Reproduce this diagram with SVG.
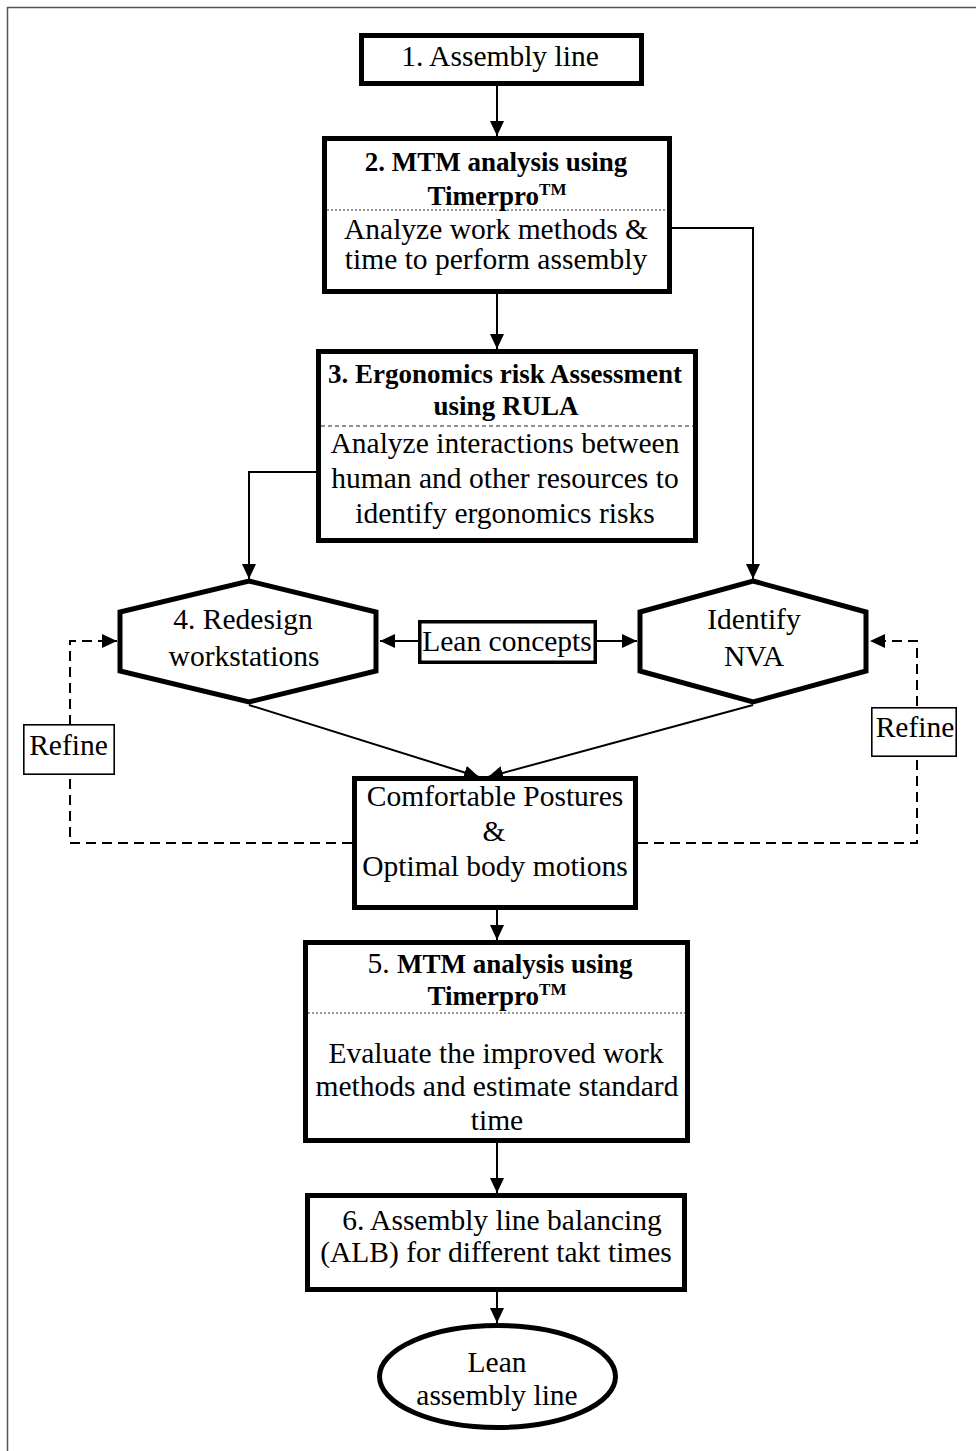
<svg xmlns="http://www.w3.org/2000/svg" width="976" height="1451" viewBox="0 0 976 1451">
<style>
text{font-family:"Liberation Serif","Times New Roman",serif;font-size:29.5px;fill:#000;text-anchor:middle}
.b{font-weight:bold;font-size:27px}
.tm{font-weight:bold;font-size:17px}
.box{fill:#fff;stroke:#000;stroke-width:5}
.thin{fill:#fff;stroke:#000;stroke-width:1.6}
.con{fill:none;stroke:#000;stroke-width:2}
.dash{fill:none;stroke:#000;stroke-width:2;stroke-dasharray:10 6}
.dot{stroke:#333;stroke-width:1;stroke-dasharray:2 2}
.dsh{stroke:#222;stroke-width:1.2;stroke-dasharray:4 3}
</style>
<defs>
<marker id="ah" markerUnits="userSpaceOnUse" markerWidth="16" markerHeight="14" refX="15" refY="7" orient="auto">
<path d="M0,0 L15,7 L0,14 z" fill="#000"/>
</marker>
</defs>
<path d="M7.5,1451 V7.5 H976" fill="none" stroke="#555" stroke-width="1.5"/>
<g id="connectors">
<path class="con" d="M497,86 V136" marker-end="url(#ah)"/>
<path class="con" d="M497,294 V349" marker-end="url(#ah)"/>
<path class="con" d="M672,228 H753 V579" marker-end="url(#ah)"/>
<path class="con" d="M316,472 H249 V579" marker-end="url(#ah)"/>
<path class="con" d="M418,641 H380" marker-end="url(#ah)"/>
<path class="con" d="M597,641 H637" marker-end="url(#ah)"/>
<path class="con" d="M249,705 L479,777" marker-end="url(#ah)"/>
<path class="con" d="M753,705 L488,777" marker-end="url(#ah)"/>
<path class="con" d="M497,910 V940" marker-end="url(#ah)"/>
<path class="con" d="M497,1143 V1193" marker-end="url(#ah)"/>
<path class="con" d="M497,1292 V1323" marker-end="url(#ah)"/>
<path class="dash" d="M352,843 H70 V641 H117" marker-end="url(#ah)"/>
<path class="dash" d="M638,843 H917 V641 H870" marker-end="url(#ah)"/>
</g>
<g id="n1">
<rect class="box" x="361.5" y="35.5" width="280" height="48"/>
<text x="500" y="66">1. Assembly line</text>
</g>
<g id="n2">
<rect class="box" x="324.5" y="138.5" width="345" height="153"/>
<line class="dot" x1="327" y1="210" x2="667" y2="210"/>
<text class="b" x="496" y="171">2. MTM analysis using</text>
<text class="b" x="497" y="205">Timerpro<tspan class="tm" dy="-10">TM</tspan></text>
<text x="496" y="239">Analyze work methods &amp;</text>
<text x="496" y="269">time to perform assembly</text>
</g>
<g id="n3">
<rect class="box" x="318.5" y="351.5" width="377" height="189"/>
<line class="dsh" x1="321" y1="426" x2="693" y2="426"/>
<text class="b" x="505" y="383">3. Ergonomics risk Assessment</text>
<text class="b" x="506" y="415">using RULA</text>
<text x="505" y="453">Analyze interactions between</text>
<text x="505" y="488">human and other resources to</text>
<text x="505" y="523">identify ergonomics risks</text>
</g>
<g id="n4">
<polygon class="box" points="249,581 376,612 376,671 249,702 120,671 120,612"/>
<text x="243" y="629">4. Redesign</text>
<text x="244" y="666">workstations</text>
</g>
<g id="nva">
<polygon class="box" points="753,581 866,612 866,671 753,702 640,671 640,612"/>
<text x="754" y="629">Identify</text>
<text x="754" y="666">NVA</text>
</g>
<g id="lean">
<rect x="419.75" y="621.75" width="175.5" height="40.5" fill="#fff" stroke="#000" stroke-width="3.5"/>
<text x="507" y="651">Lean concepts</text>
</g>
<g id="refineL">
<rect class="thin" x="23.8" y="724.8" width="90.4" height="49.4"/>
<text x="68.5" y="755">Refine</text>
</g>
<g id="refineR">
<rect class="thin" x="871.8" y="707.8" width="84.4" height="48.4"/>
<text x="915" y="737">Refine</text>
</g>
<g id="comfort">
<rect class="box" x="354.5" y="778.5" width="281" height="129"/>
<text x="495" y="806">Comfortable Postures</text>
<text x="494" y="841">&amp;</text>
<text x="495" y="876">Optimal body motions</text>
</g>
<g id="n5">
<rect class="box" x="305.5" y="942.5" width="382" height="198"/>
<line class="dot" x1="308" y1="1013" x2="685" y2="1013"/>
<text x="500" y="973"><tspan>5. </tspan><tspan class="b">MTM analysis using</tspan></text>
<text class="b" x="497" y="1005">Timerpro<tspan class="tm" dy="-10">TM</tspan></text>
<text x="496" y="1063">Evaluate the improved work</text>
<text x="497" y="1096">methods and estimate standard</text>
<text x="497" y="1130">time</text>
</g>
<g id="n6">
<rect class="box" x="307.5" y="1195.5" width="377" height="94"/>
<text x="502" y="1230">6. Assembly line balancing</text>
<text x="496" y="1262">(ALB) for different takt times</text>
</g>
<g id="end">
<ellipse class="box" cx="497.5" cy="1376.5" rx="118" ry="51"/>
<text x="497" y="1372">Lean</text>
<text x="497" y="1405">assembly line</text>
</g>
</svg>
